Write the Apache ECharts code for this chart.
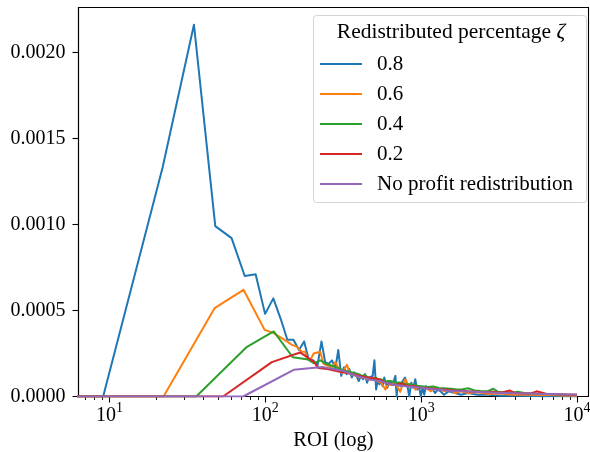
<!DOCTYPE html>
<html>
<head>
<meta charset="utf-8">
<script src="https://cdn.jsdelivr.net/npm/echarts@6/dist/echarts.min.js"></script>
<style>html,body{margin:0;padding:0;background:#fff}#c{width:590px;height:452px}</style>
</head>
<body>
<div id="c"></div>
<script>
// ---- data ----
const seriesNames = ['0.8', '0.6', '0.4', '0.2', 'No profit redistribution'];
const seriesColors = ['#1f77b4', '#ff7f0e', '#2ca02c', '#d62728', '#9467bd'];

const roi08 = [5, 9.1, 21.9, 34.8, 47.7, 60.7, 73.7, 86.6, 99.6, 112.5, 125.5, 138.4, 151.4, 164.3, 177.3, 190.2, 203.2, 216.1, 229.1, 242, 255, 267.9, 280.9, 293.8, 306.8, 319.7, 332.7, 345.6, 358.6, 371.5, 384.5, 397.4, 410.4, 423.3, 436.3, 449.2, 462.2, 475.1, 488.1, 501, 514, 527, 540, 553, 566, 579, 592, 605, 631, 657, 683, 696, 709, 735, 761, 787, 813, 838, 864, 890, 916, 942, 968, 994, 1020, 1046, 1072, 1124, 1175, 1227, 1279, 1331, 1400, 1500, 1650, 1800, 2000, 2300, 2700, 3200, 4000, 5000, 6500, 8000, 10000];
const val08 = [0, 0, 0.00133, 0.00216, 0.00099, 0.00092, 0.00070, 0.00071, 0.00048, 0.00057, 0.00045, 0.00033, 0.00033, 0.00027, 0.00032, 0.00021, 0.00021, 0.00018, 0.00032, 0.00020, 0.00019, 0.00021, 0.00016, 0.00027, 0.00012, 0.00017, 0.00013, 0.00016, 0.00011, 0.00014, 0.00012, 0.00009, 0.00012, 0.00010, 0.00013, 0.00008, 0.00011, 0.00010, 0.00012, 0.00021, 0.00004, 0.00010, 0.00007, 0.00009, 0.00006, 0.00011, 0.00008, 0.00005, 0.00009, 0.00007, 0.00012, 0.00000, 0.00008, 0.00006, 0.00009, 0.00011, 0.00007, 0.00000, 0.00008, 0.00005, 0.00010, 0.00004, 0.00006, 0.00000, 0.00005, 0.00001, 0.00006, 0.00004, 0.00005, 0.00002, 0.00004, 0.00003, 0.00001, 0.00003, 0.00002, 0.00001, 0.00002, 0.00001, 0.00001, 0.000005, 0.000005, 0.000003, 0.000002, 0.000002, 0];

const roi06 = [5, 22.2, 47.2, 72.4, 98.9, 113, 137.6, 148, 159, 171, 180, 185, 194, 204, 209, 225, 236, 250, 267, 281, 296, 310, 322, 334, 347, 360, 383, 406, 430, 450, 471, 497, 522, 555, 589, 611, 634, 680, 733, 760, 791, 830, 870, 920, 960, 1000, 1080, 1150, 1230, 1320, 1420, 1530, 1650, 1800, 2000, 2300, 2700, 3200, 3800, 4500, 5500, 6500, 8000, 10000];
const val06 = [0, 0, 0.000513, 0.00062, 0.000387, 0.000368, 0.00032, 0.0003, 0.00029, 0.00026, 0.00026, 0.00022, 0.00021, 0.00025, 0.00026, 0.00026, 0.00019, 0.00018, 0.00017, 0.00020, 0.00016, 0.000136, 0.00016, 0.000184, 0.00014, 0.000126, 0.00012, 0.00011, 0.00011, 0.00010, 0.000097, 0.00011, 0.00009, 0.00008, 0.00004, 0.00007, 0.00007, 0.00008, 0.000027, 0.00007, 0.0001, 0.00006, 0.00007, 0.00004, 0.00006, 0.00005, 0.00005, 0.00003, 0.00005, 0.00004, 0.00003, 0.00004, 0.00002, 0.00003, 0.00002, 0.000025, 0.000015, 0.000018, 0.00001, 0.000012, 0.000008, 0.00001, 0.000006, 0.000005];

const roi04 = [5, 36, 75.3, 113, 150, 188, 204, 226, 245, 264, 283, 302, 321, 340, 360, 378, 397, 416, 435, 454, 473, 492, 511, 530, 550, 570, 590, 610, 650, 690, 730, 770, 810, 850, 900, 950, 1000, 1100, 1200, 1300, 1400, 1550, 1700, 1850, 2000, 2200, 2450, 2700, 2900, 3100, 3400, 3800, 4140, 4600, 5200, 6000, 7000, 8000, 9000, 10000];
const val04 = [0, 0, 0.000285, 0.000378, 0.000228, 0.000215, 0.000194, 0.00021, 0.00019, 0.00018, 0.00017, 0.00016, 0.00015, 0.000145, 0.00014, 0.000135, 0.00013, 0.00012, 0.000125, 0.00011, 0.000105, 0.0001, 0.00011, 0.000098, 0.0001, 0.000095, 0.000085, 0.00009, 0.000088, 0.00008, 0.000082, 0.000075, 0.00007, 0.000072, 0.000065, 0.000062, 0.00006, 0.000055, 0.000058, 0.00005, 0.000048, 0.000045, 0.00004, 0.000042, 0.000048, 0.000035, 0.00003, 0.000032, 0.000045, 0.000028, 0.000025, 0.000022, 0.000027, 0.00002, 0.000018, 0.000015, 0.000013, 0.000012, 0.00001, 0.000008];

const roi02 = [5, 53.5, 110, 167, 204, 219, 250, 295, 340, 377, 430, 483, 540, 590, 650, 700, 760, 820, 880, 940, 1000, 1100, 1200, 1300, 1450, 1600, 1800, 2000, 2300, 2600, 2900, 3250, 3700, 4000, 4500, 5000, 5500, 6400, 7200, 8000, 9000, 10000];
const val02 = [0, 0, 0.0002, 0.000256, 0.000203, 0.000165, 0.00016, 0.000145, 0.000135, 0.000126, 0.000115, 0.000107, 0.0001, 0.00008, 0.000068, 0.00007, 0.000075, 0.00006, 0.000062, 0.000055, 0.00005, 0.000048, 0.000045, 0.000042, 0.00004, 0.000035, 0.000033, 0.00003, 0.000028, 0.000025, 0.000027, 0.000022, 0.000035, 0.00002, 0.000018, 0.000017, 0.00003, 0.000014, 0.000013, 0.000012, 0.00001, 0.00001];

const roiNone = [5, 72, 152, 232, 312, 392, 472, 552, 632, 712, 792, 872, 952, 1032, 1112, 1192, 1300, 1450, 1600, 1800, 2000, 2300, 2600, 3000, 3400, 3900, 4500, 5100, 5800, 6600, 7500, 8500, 10000];
const valNone = [0, 0, 0.000155, 0.000172, 0.00015, 0.000118, 0.000098, 0.000088, 0.000072, 0.000066, 0.00006, 0.000056, 0.000052, 0.000049, 0.000045, 0.000042, 0.00004, 0.000035, 0.000032, 0.00003, 0.000029, 0.000026, 0.000024, 0.000022, 0.00002, 0.000019, 0.000018, 0.000017, 0.000015, 0.000014, 0.000013, 0.000012, 0.000012];

const xMajorTicks = [10, 100, 1000, 10000];
const xMinorTicks = [7, 8, 9, 20, 30, 40, 50, 60, 70, 80, 90, 200, 300, 400, 500, 600, 700, 800, 900, 2000, 3000, 4000, 5000, 6000, 7000, 8000, 9000];
const yTicks = [0, 0.0005, 0.0010, 0.0015, 0.0020];
const xRange = [6.32, 11850];
const yRange = [0, 0.00226];
const legendTitle = 'Redistributed percentage ';
const xAxisTitle = 'ROI (log)';

// ---- chart ----
const FONT = 'Liberation Serif';
const rois = [roi08, roi06, roi04, roi02, roiNone];
const vals = [val08, val06, val04, val02, valNone];
const series = seriesNames.map((n, i) => ({
  name: n,
  type: 'line',
  xAxisIndex: 0,
  data: rois[i].map((x, j) => [x, vals[i][j]]),
  showSymbol: false,
  symbol: 'none',
  clip: true,
  lineStyle: { width: 2, color: seriesColors[i], join: 'round' },
  itemStyle: { color: seriesColors[i] },
  emphasis: { disabled: true },
  animation: false,
  z: 2 + i * 0.01
}));

const grid = { left: 78.5, right: 1.5, top: 7.5, bottom: 55.5, outerBoundsMode: 'none', containLabel: false, show: true, borderColor: '#000', borderWidth: 1.1, backgroundColor: 'transparent' };

const option = {
  backgroundColor: '#fff',
  animation: false,
  grid: grid,
  xAxis: [{
    type: 'log', logBase: 10, min: xRange[0], max: xRange[1],
    position: 'bottom',
    axisLine: { show: true, lineStyle: { color: '#000', width: 1.1 } },
    axisTick: { show: true, length: 6, lineStyle: { color: '#000', width: 1.1 }, customValues: xMajorTicks },
    axisLabel: {
      show: true, margin: 5, customValues: xMajorTicks,
      fontFamily: FONT, fontSize: 20, color: '#000',
      formatter: v => '{b|10}{s|' + Math.round(Math.log10(v)) + '}',
      rich: {
        b: { fontFamily: FONT, fontSize: 20, color: '#000', lineHeight: 24, verticalAlign: 'bottom' },
        s: { fontFamily: FONT, fontSize: 14, color: '#000', lineHeight: 24, verticalAlign: 'top' }
      }
    },
    splitLine: { show: false },
    name: xAxisTitle, nameLocation: 'middle', nameGap: 28,
    nameTextStyle: { fontFamily: FONT, fontSize: 20.5, color: '#000' }
  }, {
    type: 'log', logBase: 10, min: xRange[0], max: xRange[1],
    position: 'bottom',
    axisLine: { show: false },
    axisTick: { show: true, length: 3.5, lineStyle: { color: '#000', width: 0.9 }, customValues: xMinorTicks },
    axisLabel: { show: false },
    splitLine: { show: false }
  }],
  yAxis: {
    type: 'value', min: yRange[0], max: yRange[1], interval: 0.0005,
    axisLine: { show: true, lineStyle: { color: '#000', width: 1.1 } },
    axisTick: { show: true, length: 6, lineStyle: { color: '#000', width: 1.1 }, customValues: yTicks },
    axisLabel: { margin: 13, customValues: yTicks, fontFamily: FONT, fontSize: 20, color: '#000', formatter: v => v.toFixed(4) },
    splitLine: { show: false }
  },
  legend: {
    data: seriesNames, orient: 'vertical', left: 320, top: 53.5,
    icon: 'rect', itemWidth: 42, itemHeight: 2, itemGap: 9, padding: 0,
    textStyle: { fontFamily: FONT, fontSize: 21, color: '#000', lineHeight: 20, padding: [0, 0, 0, 10] },
    selectedMode: false, z: 60
  },
  graphic: [{
    type: 'rect', z: 50,
    shape: { x: 313.5, y: 15.5, width: 273, height: 187, r: 3 },
    style: { fill: 'rgba(255,255,255,0.8)', stroke: '#d4d4d4', lineWidth: 1 }
  }, {
    type: 'text', z: 60, x: 451, y: 32,
    style: {
      text: legendTitle + '{i|ζ}', align: 'center', verticalAlign: 'middle',
      fontFamily: FONT, fontSize: 21.5, fill: '#000',
      rich: { i: { fontStyle: 'italic', fontFamily: FONT, fontSize: 21.5, fill: '#000' } }
    }
  }],
  series: series
};
const chart = echarts.init(document.getElementById('c'), null, { renderer: 'canvas' });
chart.setOption(option);
</script>
</body>
</html>
